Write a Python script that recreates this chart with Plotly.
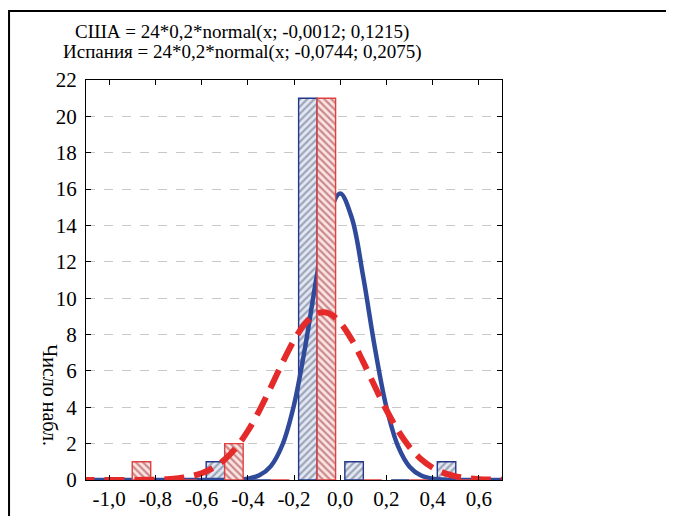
import plotly.graph_objects as go

# histogram bins (centers) and counts
bin_centers = [-0.9, -0.7, -0.5, -0.3, -0.1, 0.1, 0.3, 0.5]
usa_counts = [0, 0, 1, 0, 21, 1, 0, 1]
spain_counts = [1, 0, 2, 0, 21, 0, 0, 0]

# fitted normal curves
curve_x = [-1.15, -1.1, -1.05, -1.0, -0.95, -0.9, -0.85, -0.8, -0.75, -0.7, -0.65, -0.6,
           -0.55, -0.5, -0.45, -0.4, -0.35, -0.3, -0.25, -0.2, -0.15, -0.1, -0.05,
           0.0, 0.05, 0.1, 0.15, 0.2, 0.25, 0.3, 0.35, 0.4, 0.45, 0.5, 0.55, 0.6,
           0.65, 0.7, 0.75]
usa_curve = [0, 0, 0, 0, 0, 0, 0, 0, 0, 0, 0, 0,
             0.0005, 0.0035, 0.017, 0.072, 0.256, 0.766, 1.94, 4.13, 7.45, 11.32, 14.54,
             15.76, 14.42, 11.14, 7.27, 4.0, 1.86, 0.73, 0.242, 0.068, 0.016, 0.003, 0.0005, 0,
             0, 0, 0]
spain_curve = [0, 0.0001, 0.0002, 0.0004, 0.0013, 0.0034, 0.0085, 0.020, 0.046, 0.098, 0.197, 0.373,
               0.667, 1.126, 1.793, 2.694, 3.82, 5.11, 6.45, 7.68, 8.64, 9.16, 9.17,
               8.65, 7.71, 6.48, 5.14, 3.85, 2.72, 1.81, 1.14, 0.676, 0.379, 0.2, 0.1, 0.047,
               0.021, 0.0087, 0.0035]

x_tickvals = [-1.0, -0.8, -0.6, -0.4, -0.2, 0.0, 0.2, 0.4, 0.6]
x_ticktext = ["-1,0", "-0,8", "-0,6", "-0,4", "-0,2", "0,0", "0,2", "0,4", "0,6"]
y_tickvals = [0, 2, 4, 6, 8, 10, 12, 14, 16, 18, 20, 22]

BLUE = "#2f4a9a"
RED = "#e52a2a"
FONT = "Liberation Serif, Times New Roman, DejaVu Serif, serif"

fig = go.Figure()

# USA on the base axes
fig.add_trace(go.Bar(
    x=bin_centers, y=usa_counts, width=0.08, offset=-0.08,
    marker=dict(color="#e4e8f2", line=dict(color="#23388a", width=1.4),
                pattern=dict(shape="/", fgcolor="#56627f", size=5, solidity=0.45)),
    showlegend=False))
fig.add_trace(go.Scatter(
    x=curve_x, y=usa_curve, mode="lines",
    line=dict(color=BLUE, width=4.5, shape="spline"), showlegend=False))

# Spain on overlaid axes (drawn on top)
fig.add_trace(go.Bar(
    x=bin_centers, y=spain_counts, width=0.08, offset=0,
    marker=dict(color="#fde4e4", line=dict(color="#e04040", width=1.4),
                pattern=dict(shape="\\", fgcolor="#963030", size=5, solidity=0.45)),
    xaxis="x2", yaxis="y2", showlegend=False))
fig.add_trace(go.Scatter(
    x=curve_x, y=spain_curve, mode="lines",
    line=dict(color=RED, width=6, dash="20px,10px", shape="spline"),
    xaxis="x2", yaxis="y2", showlegend=False))

axis_common = dict(showline=True, linecolor="black", linewidth=1, mirror="ticks",
                   ticks="inside", ticklen=5, tickcolor="black", zeroline=False,
                   automargin=False,
                   tickfont=dict(family=FONT, size=21, color="black"))

fig.update_layout(
    width=666, height=508,
    margin=dict(l=78, r=172, t=72, b=36),
    paper_bgcolor="white", plot_bgcolor="white",
    font=dict(family=FONT, color="black"),
    xaxis=dict(range=[-1.1, 0.7], tickvals=x_tickvals, ticktext=x_ticktext,
               showgrid=False, **axis_common),
    yaxis=dict(range=[0, 22], tickvals=y_tickvals, showgrid=True, ticklabelstandoff=4,
               gridcolor="#c8c8c8", griddash="dash", gridwidth=1, **axis_common),
    xaxis2=dict(range=[-1.1, 0.7], overlaying="x", visible=False),
    yaxis2=dict(range=[0, 22], overlaying="y", visible=False),
    annotations=[
        dict(text="США = 24*0,2*normal(x; -0,0012; 0,1215)", xref="paper", yref="paper",
             x=0.375, y=1.12, xanchor="center", yanchor="middle", showarrow=False,
             font=dict(family=FONT, size=19)),
        dict(text="Испания = 24*0,2*normal(x; -0,0744; 0,2075)", xref="paper", yref="paper",
             x=0.375, y=1.07, xanchor="center", yanchor="middle", showarrow=False,
             font=dict(family=FONT, size=19)),
        dict(text="Число набл.", xref="paper", yref="paper", x=-0.087, y=0.2125,
             xanchor="center", yanchor="middle", textangle=90, showarrow=False,
             font=dict(family=FONT, size=20)),
    ],
    shapes=[dict(type="rect", xref="paper", yref="paper", x0=-0.185, x1=1.404,
                 y0=-0.2, y1=1.1725, line=dict(color="black", width=2), layer="below")],
)

fig.write_html("out.html")
